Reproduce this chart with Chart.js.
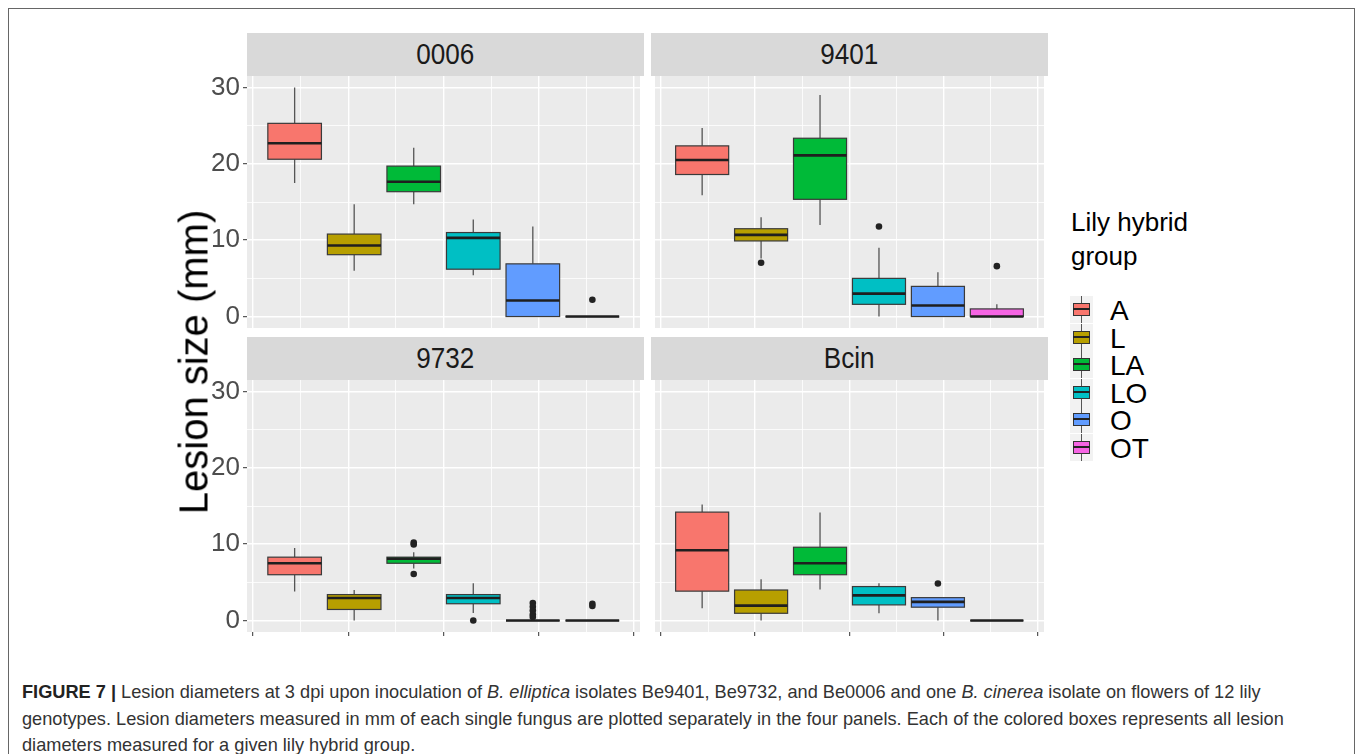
<!DOCTYPE html>
<html>
<head>
<meta charset="utf-8">
<script src="https://cdn.jsdelivr.net/npm/chart.js@4.4.1/dist/chart.umd.min.js"></script>
<style>
  html, body { margin: 0; padding: 0; background: #fff; }
  body { width: 1358px; height: 754px; position: relative; overflow: hidden; font-family: "Liberation Sans", Arial, sans-serif; }
  .frame { position: absolute; left: 8px; top: 8px; width: 1347px; height: 800px; border: 1.5px solid #666; box-sizing: border-box; }
  canvas { position: absolute; }
  .strip { position: absolute; height: 43px; width: 397px; background: #D9D9D9; color: #1A1A1A;
           font-size: 29px; text-align: center; line-height: 43px; }
  .strip span { display: inline-block; transform: scaleX(0.9); }
  .ytitle { position: absolute; left: 194px; top: 362px; transform: translate(-50%, -50%) rotate(-90deg);
            font-size: 40px; color: #000; white-space: nowrap; }
  .legend-title { position: absolute; left: 1071px; top: 205px; font-size: 26px; line-height: 34px; color: #000; }
  .key { position: absolute; left: 1070px; width: 23px; height: 27px; background: #F2F2F2; }
  .key .wh { position: absolute; left: 11px; width: 1px; height: 27px; top: 0; background: #555; }
  .key .bx { position: absolute; left: 3px; top: 7px; width: 15px; height: 11px; border: 1px solid #333; }
  .key .md { position: absolute; left: 3px; top: 12px; width: 17px; height: 2px; background: #222; }
  .key-label { position: absolute; left: 1110px; font-size: 28px; line-height: 27px; color: #000; }
  .caption { position: absolute; left: 22px; top: 679px; font-size: 18.2px; line-height: 26.5px; color: #333; white-space: nowrap; }
  .caption b { color: #222; }
</style>
</head>
<body>
<div class="frame"></div>

<div class="strip" style="left:247px; top:33px;"><span>0006</span></div>
<div class="strip" style="left:651px; top:33px;"><span>9401</span></div>
<div class="strip" style="left:247px; top:337px;"><span>9732</span></div>
<div class="strip" style="left:651px; top:337px;"><span>Bcin</span></div>

<canvas id="p0" width="444" height="292" style="left:200px; top:56px;"></canvas>
<canvas id="p1" width="397" height="292" style="left:651px; top:56px;"></canvas>
<canvas id="p2" width="444" height="292" style="left:200px; top:360px;"></canvas>
<canvas id="p3" width="397" height="292" style="left:651px; top:360px;"></canvas>

<div class="ytitle">Lesion size (mm)</div>

<div class="legend-title">Lily hybrid<br>group</div>
<div id="legend"></div>

<div class="caption">
<b>FIGURE 7 |</b> Lesion diameters at 3 dpi upon inoculation of <i>B. elliptica</i> isolates Be9401, Be9732, and Be0006 and one <i>B. cinerea</i> isolate on flowers of 12 lily<br>
genotypes. Lesion diameters measured in mm of each single fungus are plotted separately in the four panels. Each of the colored boxes represents all lesion<br>
diameters measured for a given lily hybrid group.
</div>

<script>
// panels (fungus isolates) and groups (lily hybrid groups)
const panels = ['0006', '9401', '9732', 'Bcin'];
const groups = ['A', 'L', 'LA', 'LO', 'O', 'OT'];
const groupColors = ['#F8766D', '#B79F00', '#00BA38', '#00BFC4', '#619CFF', '#F564E3'];

// dodged box positions on the x scale (single x = 1, dodge width 0.75)
const boxX = [0.6875, 0.8125, 0.9375, 1.0625, 1.1875, 1.3125];
const boxWidth = 0.1125;
const xBreaks = [0.6, 0.7, 0.8, 0.9, 1.0, 1.1, 1.2, 1.3, 1.4];
const yBreaks = [0, 5, 10, 15, 20, 25, 30];

// box statistics, one row per panel, one value per group
const whiskerLow = [
  [17.5, 6.0, 14.7, 5.4, 0, 0],
  [15.9, 7.6, 12.0, 0, 0, 0],
  [3.8, 0, 6.8, 1.0, 0, 0],
  [1.6, 0, 4.05, 0.95, 0, 0]
];
const boxLow = [
  [20.6, 8.1, 16.35, 6.2, 0, 0],
  [18.6, 9.9, 15.35, 1.6, 0, 0],
  [6.0, 1.45, 7.5, 2.2, 0, 0],
  [3.85, 0.95, 6.0, 2.05, 1.75, 0]
];
const medians = [
  [22.7, 9.3, 17.65, 10.3, 2.1, 0],
  [20.5, 10.7, 21.1, 3.0, 1.45, 0],
  [7.5, 2.95, 8.1, 2.95, 0, 0],
  [9.2, 1.95, 7.5, 3.3, 2.45, 0]
];
const boxHigh = [
  [25.3, 10.8, 19.7, 11.0, 6.9, 0],
  [22.35, 11.5, 23.35, 5.0, 3.95, 1.0],
  [8.3, 3.4, 8.3, 3.4, 0, 0],
  [14.2, 4.0, 9.6, 4.45, 3.0, 0]
];
const whiskerHigh = [
  [30.0, 14.7, 22.1, 12.7, 11.8, 0],
  [24.7, 13.0, 29.0, 9.0, 5.8, 1.6],
  [9.5, 4.0, 8.95, 4.9, 0, 0],
  [15.2, 5.4, 14.15, 4.9, 3.0, 0]
];
const outliers = [
  [[], [], [], [], [], [2.2]],
  [[], [7.05], [], [11.8], [], [6.6]],
  [[], [], [10.2, 9.95, 6.1], [0], [2.3, 1.8, 1.3, 0.8, 0.45], [2.2, 1.9]],
  [[], [], [], [], [4.85], []]
];

const tickFont = '"Liberation Sans", Arial, sans-serif';

function isMajorX(v) { return Math.abs(v * 5 - Math.round(v * 5)) < 1e-6; }

// grey panel background
const panelBg = {
  id: 'panelBg',
  beforeDraw(chart) {
    const a = chart.chartArea;
    const ctx = chart.ctx;
    ctx.save();
    ctx.fillStyle = '#EBEBEB';
    ctx.fillRect(a.left, a.top, a.right - a.left, a.bottom - a.top);
    ctx.restore();
  }
};

// boxes, whiskers and medians through the chart scales
const boxes = {
  id: 'boxes',
  beforeDatasetsDraw(chart) {
    const p = chart.options.plugins.boxes.panel;
    const xs = chart.scales.x, ys = chart.scales.y;
    const ctx = chart.ctx;
    ctx.save();
    for (let g = 0; g < groups.length; g++) {
      const cx = xs.getPixelForValue(boxX[g]);
      const x0 = xs.getPixelForValue(boxX[g] - boxWidth / 2);
      const x1 = xs.getPixelForValue(boxX[g] + boxWidth / 2);
      const yLo = ys.getPixelForValue(whiskerLow[p][g]);
      const yQ1 = ys.getPixelForValue(boxLow[p][g]);
      const yMed = ys.getPixelForValue(medians[p][g]);
      const yQ3 = ys.getPixelForValue(boxHigh[p][g]);
      const yHi = ys.getPixelForValue(whiskerHigh[p][g]);

      // whiskers
      ctx.strokeStyle = '#555';
      ctx.lineWidth = 1.3;
      ctx.beginPath();
      ctx.moveTo(cx, yHi); ctx.lineTo(cx, yQ3);
      ctx.moveTo(cx, yQ1); ctx.lineTo(cx, yLo);
      ctx.stroke();

      // box
      ctx.fillStyle = groupColors[g];
      ctx.fillRect(x0, yQ3, x1 - x0, yQ1 - yQ3);
      ctx.strokeStyle = '#3a3a3a';
      ctx.lineWidth = 1.2;
      ctx.strokeRect(x0, yQ3, x1 - x0, yQ1 - yQ3);

      // median
      ctx.strokeStyle = '#1f1f1f';
      ctx.lineWidth = 2.6;
      ctx.beginPath();
      ctx.moveTo(x0, yMed); ctx.lineTo(x1, yMed);
      ctx.stroke();
    }
    ctx.restore();
  }
};

function makePanel(p, leftCol, bottomRow) {
  const pts = [];
  for (let g = 0; g < groups.length; g++) {
    outliers[p][g].forEach(v => pts.push({ x: boxX[g], y: v }));
  }
  new Chart(document.getElementById('p' + p), {
    type: 'scatter',
    data: {
      datasets: [{
        label: panels[p] + ' outliers',
        data: pts,
        pointRadius: 3.3,
        pointBackgroundColor: '#222',
        pointBorderWidth: 0
      }]
    },
    options: {
      responsive: false,
      animation: false,
      events: [],
      layout: { padding: { top: 20, bottom: bottomRow ? 12 : 20, left: 0, right: 0 } },
      plugins: {
        legend: { display: false },
        tooltip: { enabled: false },
        boxes: { panel: p }
      },
      scales: {
        x: {
          type: 'linear',
          min: 0.5875,
          max: 1.4125,
          afterBuildTicks: s => { s.ticks = xBreaks.map(v => ({ value: v })); },
          afterFit: s => { s.height = bottomRow ? 8 : 0; s.paddingLeft = 0; s.paddingRight = 0; },
          ticks: { display: false },
          border: { display: false },
          grid: {
            color: '#fff',
            lineWidth: c => isMajorX(c.tick.value) ? 1.4 : 0.8,
            drawTicks: bottomRow,
            tickLength: 4,
            tickWidth: 1,
            tickColor: c => isMajorX(c.tick.value) ? '#333' : 'rgba(0,0,0,0)'
          }
        },
        y: {
          type: 'linear',
          min: -1.5,
          max: 31.5,
          afterBuildTicks: s => { s.ticks = yBreaks.map(v => ({ value: v })); },
          afterFit: s => { s.width = leftCol ? 47 : 0; s.paddingTop = 0; s.paddingBottom = 0; },
          ticks: {
            display: leftCol,
            autoSkip: false,
            padding: 3,
            color: '#4D4D4D',
            font: { size: 26, family: tickFont },
            callback: v => (v % 10 === 0 ? String(v) : '')
          },
          border: { display: false },
          grid: {
            color: '#fff',
            lineWidth: c => (c.tick.value % 10 === 0 ? 1.4 : 0.8),
            drawTicks: leftCol,
            tickLength: 4,
            tickWidth: 1,
            tickColor: c => (c.tick.value % 10 === 0 ? '#333' : 'rgba(0,0,0,0)')
          }
        }
      }
    },
    plugins: [panelBg, boxes]
  });
}

makePanel(0, true, false);
makePanel(1, false, false);
makePanel(2, true, true);
makePanel(3, false, true);

// legend keys
const keyTop = 296;
const keyStep = 27.6;
const legend = document.getElementById('legend');
groups.forEach((name, i) => {
  const top = keyTop + i * keyStep;
  const key = document.createElement('div');
  key.className = 'key';
  key.style.top = top + 'px';
  key.innerHTML = '<div class="wh"></div><div class="bx" style="background:' + groupColors[i] + '"></div><div class="md"></div>';
  legend.appendChild(key);
  const lab = document.createElement('div');
  lab.className = 'key-label';
  lab.style.top = (top + 1) + 'px';
  lab.textContent = name;
  legend.appendChild(lab);
});
</script>
</body>
</html>
